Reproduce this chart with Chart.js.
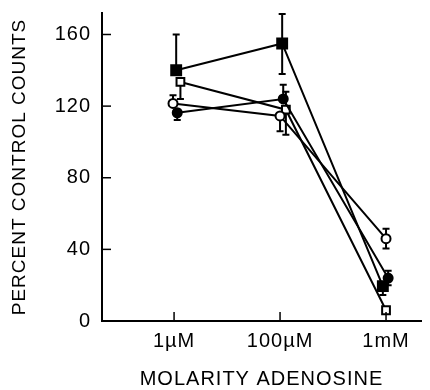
<!DOCTYPE html>
<html>
<head>
<meta charset="utf-8">
<script src="https://cdn.jsdelivr.net/npm/chart.js@4/dist/chart.umd.min.js"></script>
<style>
    html, body { margin: 0; padding: 0; background: #fff; }
    #wrap { width: 430px; height: 390px; }
</style>
</head>
<body>
<div id="wrap"><canvas id="adenosineChart" width="430" height="390"></canvas></div>
<script>
// dose labels (evenly spaced on the axis)
const doseLabels = ['1\u00b5M', '100\u00b5M', '1mM'];
const doseIndex = [0, 1, 2];
const yTicks = [0, 40, 80, 120, 160];

// filled squares
const filledSquareX = [0.02, 1.02, 1.97];
const filledSquareY = [140, 155, 19.5];
const filledSquareErrUp = [20, 16.5, 0];
const filledSquareErrDown = [0, 17, 5];

// open squares
const openSquareX = [0.06, 1.055, 2.0];
const openSquareY = [133.5, 118, 6];
const openSquareErrUp = [0, 10, 0];
const openSquareErrDown = [9.5, 14, 0];

// open circles
const openCircleX = [-0.01, 1.0, 2.0];
const openCircleY = [121.5, 114.5, 46];
const openCircleErrUp = [4.5, 0, 5.5];
const openCircleErrDown = [0, 8.5, 5.5];

// filled circles
const filledCircleX = [0.03, 1.03, 2.02];
const filledCircleY = [116.3, 124, 24];
const filledCircleErrUp = [0, 8, 4];
const filledCircleErrDown = [4, 0, 4];

const FONT = '"Liberation Sans", Arial, Helvetica, sans-serif';

function makeSeries(xs, ys, up, down, style, fill, radius) {
    return {
        data: xs.map((x, i) => ({ x: x, y: ys[i] })),
        errUp: up,
        errDown: down,
        borderColor: '#000',
        borderWidth: 2,
        pointStyle: style,
        pointRadius: radius,
        pointBackgroundColor: fill,
        pointBorderColor: '#000',
        pointBorderWidth: 2,
        tension: 0,
        fill: false
    };
}

const errorBars = {
    id: 'errorBars',
    beforeDatasetsDraw(chart) {
        const ctx = chart.ctx;
        const y = chart.scales.y;
        ctx.save();
        ctx.strokeStyle = '#000';
        ctx.lineWidth = 2;
        chart.data.datasets.forEach((ds, di) => {
            const meta = chart.getDatasetMeta(di);
            meta.data.forEach((pt, i) => {
                const v = ds.data[i].y;
                const ends = [];
                if (ds.errUp[i]) ends.push(y.getPixelForValue(v + ds.errUp[i]));
                if (ds.errDown[i]) ends.push(y.getPixelForValue(v - ds.errDown[i]));
                ends.forEach(py => {
                    ctx.beginPath();
                    ctx.moveTo(pt.x, pt.y);
                    ctx.lineTo(pt.x, py);
                    ctx.moveTo(pt.x - 3.5, py);
                    ctx.lineTo(pt.x + 3.5, py);
                    ctx.stroke();
                });
            });
        });
        ctx.restore();
    }
};

const innerTicks = {
    id: 'innerTicks',
    beforeDraw(chart) {
        chart.ctx.letterSpacing = '1px';
    },
    afterDraw(chart) {
        const ctx = chart.ctx;
        const { x, y } = chart.scales;
        ctx.save();
        ctx.strokeStyle = '#000';
        ctx.lineWidth = 1.5;
        y.ticks.forEach(t => {
            const py = y.getPixelForValue(t.value);
            ctx.beginPath();
            ctx.moveTo(x.left, py);
            ctx.lineTo(x.left + 9, py);
            ctx.stroke();
        });
        x.ticks.forEach(t => {
            const px = x.getPixelForValue(t.value);
            ctx.beginPath();
            ctx.moveTo(px, y.bottom);
            ctx.lineTo(px, y.bottom - 9);
            ctx.stroke();
        });
        ctx.restore();
    }
};

new Chart(document.getElementById('adenosineChart'), {
    type: 'line',
    data: {
        datasets: [
            makeSeries(openCircleX, openCircleY, openCircleErrUp, openCircleErrDown, 'circle', '#fff', 4.5),
            makeSeries(filledCircleX, filledCircleY, filledCircleErrUp, filledCircleErrDown, 'circle', '#000', 4.5),
            makeSeries(openSquareX, openSquareY, openSquareErrUp, openSquareErrDown, 'rect', '#fff', 5.5),
            makeSeries(filledSquareX, filledSquareY, filledSquareErrUp, filledSquareErrDown, 'rect', '#000', 7)
        ]
    },
    options: {
        responsive: false,
        animation: false,
        layout: { padding: { top: 13, right: 0, left: 0, bottom: 0 } },
        plugins: {
            legend: { display: false },
            tooltip: { enabled: false }
        },
        scales: {
            x: {
                type: 'linear',
                min: -0.68,
                max: 2.33,
                afterBuildTicks: scale => { scale.ticks = doseIndex.map(v => ({ value: v })); },
                afterFit: scale => {
                    scale.height = 69;
                    scale.paddingLeft = 0;
                    scale.paddingRight = 0;
                },
                grid: { display: false },
                border: { display: true, color: '#000', width: 2 },
                ticks: {
                    color: '#000',
                    padding: 0,
                    font: { family: FONT, size: 20 },
                    callback: v => doseLabels[v]
                },
                title: {
                    display: true,
                    text: 'MOLARITY ADENOSINE',
                    color: '#000',
                    font: { family: FONT, size: 20, lineHeight: 1 },
                    padding: { top: 0, bottom: 1 }
                }
            },
            y: {
                min: 0,
                max: 172,
                afterBuildTicks: scale => { scale.ticks = yTicks.map(v => ({ value: v })); },
                afterFit: scale => {
                    scale.width = 102;
                    scale.paddingTop = 0;
                    scale.paddingBottom = 0;
                },
                grid: { display: false },
                border: { display: true, color: '#000', width: 2 },
                ticks: {
                    color: '#000',
                    padding: 3,
                    font: { family: FONT, size: 20 }
                },
                title: {
                    display: true,
                    text: 'PERCENT CONTROL COUNTS',
                    color: '#000',
                    font: { family: FONT, size: 19, lineHeight: 1 },
                    padding: { top: 10, bottom: 0 }
                }
            }
        }
    },
    plugins: [errorBars, innerTicks]
});
</script>
</body>
</html>
